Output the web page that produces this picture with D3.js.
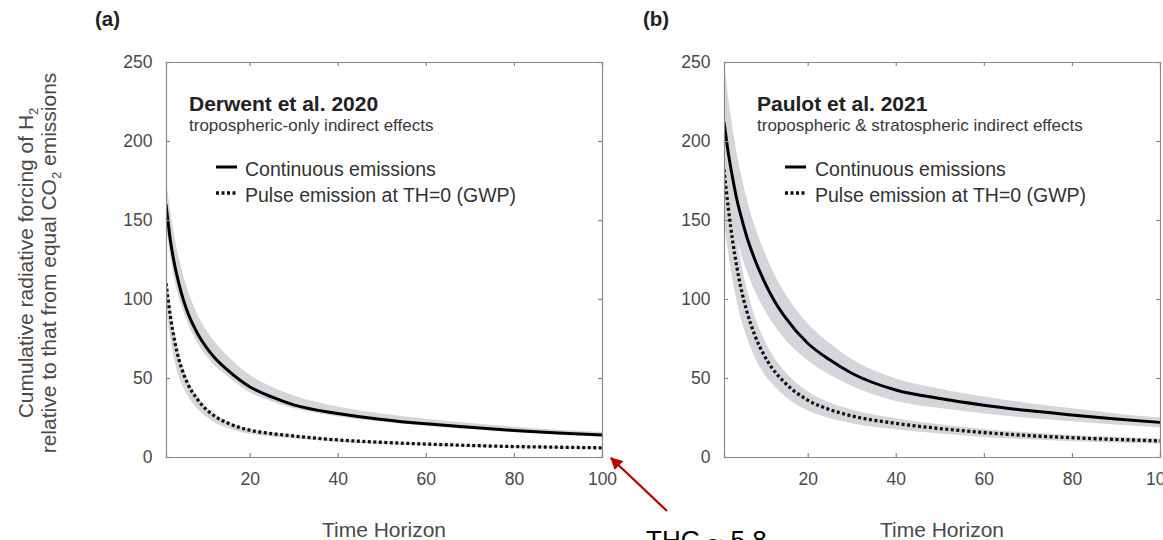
<!DOCTYPE html>
<html>
<head>
<meta charset="utf-8">
<script src="https://cdn.jsdelivr.net/npm/d3@7"></script>
<style>
  html, body { margin: 0; padding: 0; background: #fff; }
  svg { display: block; font-family: "Liberation Sans", Arial, sans-serif; }
</style>
</head>
<body>
<svg id="chart" width="1163" height="540"></svg>
<script>
// ---------- data ----------
const timeHorizon = [1, 2, 3, 4, 5, 6, 8, 10, 12, 15, 20, 25, 30, 40, 50, 60, 70, 80, 90, 100];

// Panel (a) Derwent et al. 2020
const contA    = [160, 137, 121, 109, 99, 91, 79, 70, 63, 55, 44.5, 38, 33, 27.5, 23.8, 21, 18.8, 16.8, 15.2, 13.9];
const contAHi  = [175, 155, 138, 125, 114, 105, 91, 81, 73, 64, 52, 44.5, 39, 32, 27.5, 24.2, 21.5, 19.2, 17.3, 15.8];
const contALo  = [148, 126, 111, 100, 91.5, 84, 73, 64.5, 58, 51, 41, 35.2, 30.8, 25.8, 22.4, 19.8, 17.8, 15.9, 14.4, 13.2];
const pulseA   = [110, 89, 73, 61, 52.5, 46, 37, 30.5, 26, 21.5, 17, 14.8, 13.3, 10.8, 9.3, 8.2, 7.3, 6.6, 6.2, 5.8];
const pulseAHi = [116, 94, 77, 64.5, 55.5, 48.5, 39, 32, 27.3, 22.5, 17.8, 15.5, 13.9, 11.3, 9.7, 8.6, 7.6, 6.9, 6.5, 6.1];
const pulseALo = [94, 75, 60, 50, 43.5, 38.5, 31, 25.8, 22, 18.4, 14.7, 13, 11.8, 9.7, 8.4, 7.4, 6.6, 6, 5.6, 5.3];

// Panel (b) Paulot et al. 2021
const contB    = [212, 192, 176, 162, 151, 141, 125, 112, 101, 88, 72, 61.5, 53, 42.4, 37, 32.8, 29.4, 26.6, 24, 21.9];
const contBHi  = [250, 226, 207, 190, 177, 165, 146, 131, 118, 103, 84.5, 72, 62, 49.7, 43.2, 38.3, 34.2, 30.8, 27.6, 25];
const contBLo  = [180, 163, 149, 137, 127, 119, 105, 94, 85, 74, 61, 52, 45, 35.5, 31, 27.6, 24.8, 22.6, 20.5, 18.8];
const pulseB   = [182, 157, 136, 119, 105, 94, 77, 65, 56, 46.5, 36, 30, 26, 21.3, 18, 15.5, 13.6, 12.2, 11.1, 10.2];
const pulseBHi = [209, 181, 157, 137, 121, 108, 89, 75, 64.5, 53.5, 41.5, 34.5, 30, 24.5, 20.7, 17.8, 15.6, 14, 12.8, 11.7];
const pulseBLo = [150, 128, 111, 97, 86, 77, 63, 53, 46, 38, 29.5, 24.6, 21.3, 17.5, 14.8, 12.7, 11.2, 10, 9.1, 8.4];

const xTicks = [20, 40, 60, 80, 100];
const yTicks = [0, 50, 100, 150, 200, 250];
const panelLetters = ["(a)", "(b)"];
const panelTitles = ["Derwent et al. 2020", "Paulot et al. 2021"];
const panelSubtitles = ["tropospheric-only indirect effects", "tropospheric & stratospheric indirect effects"];
const legendLabels = ["Continuous emissions", "Pulse emission at TH=0 (GWP)"];
const xTitle = "Time Horizon";
const annotation = "THG ~ 5.8";

// ---------- drawing ----------
const svg = d3.select("#chart");
const defs = svg.append("defs");
defs.append("marker")
  .attr("id", "arrowhead").attr("viewBox", "0 0 10 10")
  .attr("refX", 9).attr("refY", 5)
  .attr("markerWidth", 5.5).attr("markerHeight", 5.5)
  .attr("orient", "auto")
  .append("path").attr("d", "M0,0 L10,5 L0,10 Z").attr("fill", "#c00000");

const panels = [
  { left: 166, right: 602, cont: contA, contHi: contAHi, contLo: contALo, pulse: pulseA, pulseHi: pulseAHi, pulseLo: pulseALo,
    letterX: 95, titleX: 189, sampleX: 216, legendTextX: 245 },
  { left: 724, right: 1160, cont: contB, contHi: contBHi, contLo: contBLo, pulse: pulseB, pulseHi: pulseBHi, pulseLo: pulseBLo,
    letterX: 643, titleX: 757, sampleX: 785, legendTextX: 815 }
];
const plotTop = 62, plotBottom = 457;
const axisColor = "#8a8a8a";
const textColor = "#4a4a4a";
const bandColor = "#d6d6da";
const dotDash = "3,2.5";

panels.forEach((p, i) => {
  const x = d3.scaleLinear().domain([1, 100]).range([p.left, p.right]);
  const y = d3.scaleLinear().domain([0, 250]).range([plotBottom, plotTop]);
  const g = svg.append("g");
  const clipId = "clip" + i;
  defs.append("clipPath").attr("id", clipId)
    .append("rect").attr("x", p.left).attr("y", plotTop).attr("width", p.right - p.left).attr("height", plotBottom - plotTop);

  const idx = d3.range(timeHorizon.length);
  const area = (lo, hi) => d3.area().curve(d3.curveMonotoneX)
    .x(k => x(timeHorizon[k])).y0(k => y(lo[k])).y1(k => y(hi[k]));
  const line = arr => d3.line().curve(d3.curveMonotoneX)
    .x(k => x(timeHorizon[k])).y(k => y(arr[k]));

  const plot = g.append("g").attr("clip-path", `url(#${clipId})`);
  plot.append("path").datum(idx).attr("d", area(p.pulseLo, p.pulseHi)).attr("fill", bandColor);
  plot.append("path").datum(idx).attr("d", area(p.contLo, p.contHi)).attr("fill", bandColor);
  plot.append("path").datum(idx).attr("d", line(p.cont))
    .attr("fill", "none").attr("stroke", "#000").attr("stroke-width", 3);
  plot.append("path").datum(idx).attr("d", line(p.pulse))
    .attr("fill", "none").attr("stroke", "#111").attr("stroke-width", 3.3)
    .attr("stroke-dasharray", dotDash);

  // axes (frame with inward ticks on all sides)
  const axB = d3.axisBottom(x).tickValues(xTicks).tickSize(-4).tickPadding(16);
  const axT = d3.axisTop(x).tickValues(xTicks).tickSize(-4).tickFormat("");
  const axL = d3.axisLeft(y).tickValues(yTicks).tickSize(-4).tickPadding(13.5);
  const axR = d3.axisRight(y).tickValues(yTicks).tickSize(-4).tickFormat("");
  const style = sel => {
    sel.selectAll("path.domain").attr("stroke", axisColor).attr("stroke-width", 1.2);
    sel.selectAll(".tick line").attr("stroke", axisColor).attr("stroke-width", 1.2);
    sel.selectAll(".tick text").attr("fill", textColor).attr("font-size", 17.5)
      .attr("font-family", "'Liberation Sans', Arial, sans-serif");
  };
  g.append("g").attr("transform", `translate(0,${plotBottom})`).call(axB).call(style);
  g.append("g").attr("transform", `translate(0,${plotTop})`).call(axT).call(style);
  g.append("g").attr("transform", `translate(${p.left},0)`).call(axL).call(style);
  g.append("g").attr("transform", `translate(${p.right},0)`).call(axR).call(style);

  // panel letter
  svg.append("text").attr("x", p.letterX).attr("y", 26)
    .attr("font-size", 20.5).attr("font-weight", "bold").attr("fill", "#222")
    .text(panelLetters[i]);

  // title + subtitle
  svg.append("text").attr("x", p.titleX).attr("y", 111)
    .attr("font-size", 21).attr("font-weight", "bold").attr("fill", "#222")
    .text(panelTitles[i]);
  svg.append("text").attr("x", p.titleX).attr("y", 131)
    .attr("font-size", 17).attr("fill", "#3a3a3a")
    .text(panelSubtitles[i]);

  // legend
  svg.append("line").attr("x1", p.sampleX).attr("x2", p.sampleX + 21).attr("y1", 167).attr("y2", 167)
    .attr("stroke", "#000").attr("stroke-width", 3);
  svg.append("line").attr("x1", p.sampleX).attr("x2", p.sampleX + 21).attr("y1", 193).attr("y2", 193)
    .attr("stroke", "#111").attr("stroke-width", 3.3).attr("stroke-dasharray", dotDash);
  svg.append("text").attr("x", p.legendTextX).attr("y", 175.5)
    .attr("font-size", 19.5).attr("fill", "#333").text(legendLabels[0]);
  svg.append("text").attr("x", p.legendTextX).attr("y", 201.5)
    .attr("font-size", 19.5).attr("fill", "#333").text(legendLabels[1]);

  // x title
  svg.append("text").attr("x", (p.left + p.right) / 2).attr("y", 537)
    .attr("text-anchor", "middle").attr("font-size", 21).attr("fill", textColor)
    .text(xTitle);
});

// y-axis title (two lines, rotated)
const yt1 = svg.append("text").attr("transform", "translate(33,263) rotate(-90)")
  .attr("text-anchor", "middle").attr("font-size", 21).attr("fill", textColor);
yt1.append("tspan").text("Cumulative radiative forcing of H");
yt1.append("tspan").attr("font-size", 13).attr("dy", 5).text("2");
const yt2 = svg.append("text").attr("transform", "translate(56,263) rotate(-90)")
  .attr("text-anchor", "middle").attr("font-size", 21).attr("fill", textColor);
yt2.append("tspan").text("relative to that from equal CO");
yt2.append("tspan").attr("font-size", 13).attr("dy", 5).text("2");
yt2.append("tspan").attr("dy", -5).text(" emissions");

// annotation arrow + text
svg.append("line").attr("x1", 667).attr("y1", 511).attr("x2", 611).attr("y2", 458)
  .attr("stroke", "#c00000").attr("stroke-width", 2.2).attr("marker-end", "url(#arrowhead)");
svg.append("text").attr("x", 646).attr("y", 549)
  .attr("font-size", 26).attr("fill", "#000").text(annotation);
</script>
</body>
</html>
